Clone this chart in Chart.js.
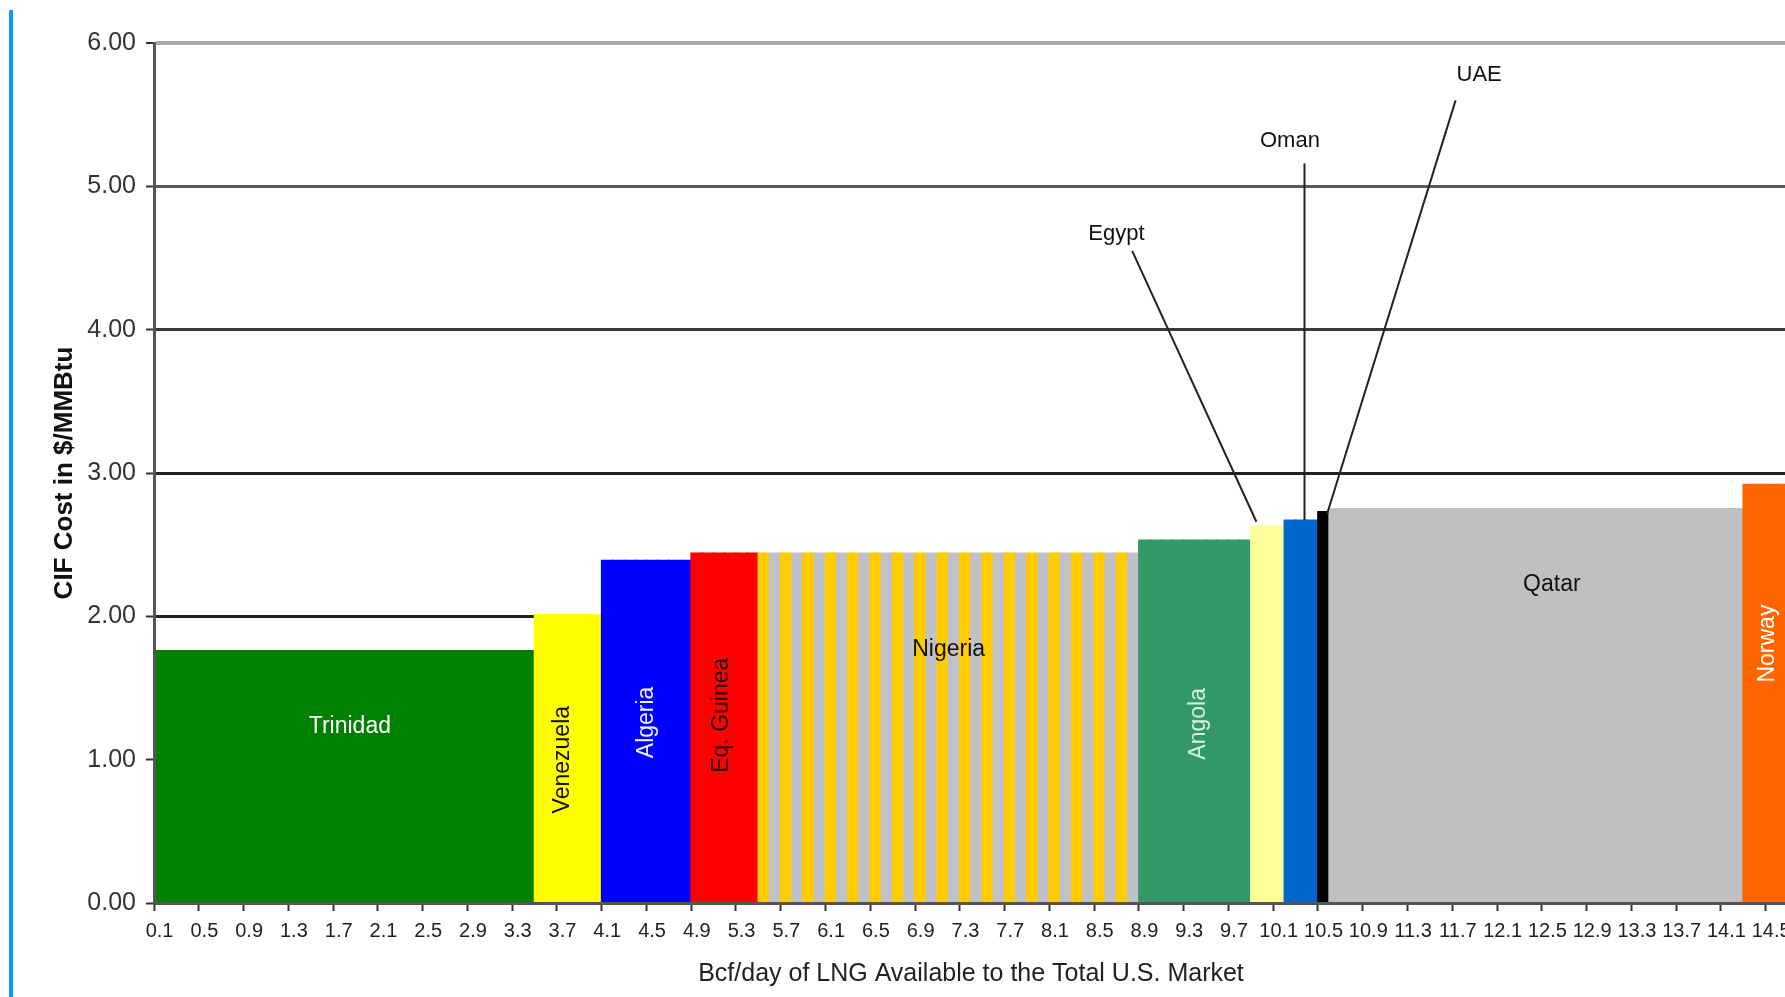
<!DOCTYPE html>
<html><head><meta charset="utf-8">
<script src="https://cdn.jsdelivr.net/npm/chart.js@4.4.1/dist/chart.umd.min.js"></script>
<style>
html,body{margin:0;padding:0;background:#fff;overflow:hidden;width:1785px;height:997px;}
#wrap{position:absolute;left:0;top:0;width:1788px;height:997px;}
#edge{position:absolute;left:9px;top:10px;width:4px;height:987px;background:#0b9bff;}
</style></head><body>
<div id="wrap"><canvas id="c" width="1788" height="997"></canvas></div>
<div id="edge"></div>
<script>
// ---- data ----
const countries = ['Trinidad','Venezuela','Algeria','Eq. Guinea','Nigeria','Angola','Egypt','Oman','UAE','Qatar','Norway'];
const volumes   = [3.4, 0.6, 0.8, 0.6, 3.4, 1.0, 0.3, 0.3, 0.1, 3.7, 0.4];           // Bcf/day per supplier
const costs     = [1.76, 2.01, 2.39, 2.44, 2.44, 2.53, 2.63, 2.67, 2.73, 2.75, 2.92]; // CIF $/MMBtu
const xTickLabels = ['0.1','0.5','0.9','1.3','1.7','2.1','2.5','2.9','3.3','3.7','4.1','4.5','4.9','5.3','5.7','6.1','6.5','6.9','7.3','7.7','8.1','8.5','8.9','9.3','9.7','10.1','10.5','10.9','11.3','11.7','12.1','12.5','12.9','13.3','13.7','14.1','14.5'];
const yTickValues = [0, 1, 2, 3, 4, 5, 6];
const step = 0.1;

// ---- styles (kept apart from the data) ----
const barColors = ['#008000','#FFFF00','#0000FF','#FF0000',['#FFCC00','#C0C0C8'],'#339966','#FFFF99','#0066CC','#000000','#C0C0C0','#FF6600'];
// in-bar label placement: [x offset in Bcf/day from group centre, y in $/MMBtu, rotation, colour]
const inLabels = {
  'Trinidad':   [0.05, 1.23, 0,   '#ffffff'],
  'Venezuela':  [-0.05, 1.00, -90, '#111111'],
  'Algeria':    [0,    1.26, -90, '#f0f0ff'],
  'Eq. Guinea': [-0.03, 1.31, -90, '#220000'],
  'Nigeria':    [0,    1.77, 0,   '#111111'],
  'Angola':     [0.03, 1.25, -90, '#d8f0e0'],
  'Qatar':      [0.14, 2.22, 0,   '#111111'],
  'Norway':     [0.02, 1.81, -90, '#ffffff']
};
// call-outs: [text x, text y, line x1, y1, x2, y2] in Bcf/day and $/MMBtu
const callouts = {
  'Egypt': [8.60, 4.67, 8.74, 4.55, 9.85, 2.66],
  'Oman':  [10.15, 5.32, 10.28, 5.16, 10.28, 2.67],
  'UAE':   [11.84, 5.78, 11.63, 5.60, 10.48, 2.71]
};

// ---- build the 0.1 Bcf/day category table from the supplier lists ----
const categories = [], values = [], fills = [], groupStart = [];
let n = 0;
countries.forEach((c, gi) => {
  groupStart.push(n * step);
  const count = Math.round(volumes[gi] / step);
  for (let j = 0; j < count; j++) {
    n++;
    categories.push((n * step).toFixed(1));
    values.push(costs[gi]);
    const col = barColors[gi];
    fills.push(Array.isArray(col) ? col[j % 2] : col);
  }
});

const FONT = "'Liberation Sans', Arial, sans-serif";
Chart.defaults.font.family = FONT;

const gridColors = {6:'#a8a8a8', 5:'#5a5a5a', 4:'#3a3a3a', 3:'#222222', 2:'#222222', 1:'#222222', 0:'#222222'};

const labelPlugin = {
  id: 'supplierLabels',
  afterDatasetsDraw(chart) {
    const {ctx, scales: {x, y}} = chart;
    const px = b => x.getPixelForValue(b / step - 0.5);
    ctx.save();
    ctx.textAlign = 'center';
    ctx.textBaseline = 'middle';
    ctx.font = "23px " + FONT;
    countries.forEach((c, gi) => {
      const L = inLabels[c];
      if (!L) return;
      const cx = groupStart[gi] + volumes[gi] / 2 + L[0];
      ctx.save();
      ctx.translate(px(cx), y.getPixelForValue(L[1]));
      ctx.rotate(L[2] * Math.PI / 180);
      ctx.fillStyle = L[3];
      ctx.fillText(c, 0, 0);
      ctx.restore();
    });
    ctx.font = "22px " + FONT;
    ctx.fillStyle = '#111';
    ctx.strokeStyle = '#222';
    ctx.lineWidth = 2;
    Object.keys(callouts).forEach(k => {
      const a = callouts[k];
      ctx.fillText(k, px(a[0]), y.getPixelForValue(a[1]));
      ctx.beginPath();
      ctx.moveTo(px(a[2]), y.getPixelForValue(a[3]));
      ctx.lineTo(px(a[4]), y.getPixelForValue(a[5]));
      ctx.stroke();
    });
    ctx.restore();
  }
};

new Chart(document.getElementById('c'), {
  type: 'bar',
  data: {
    labels: categories,
    datasets: [{
      data: values,
      backgroundColor: fills,
      borderWidth: 0,
      inflateAmount: 0.8,
      barPercentage: 1,
      categoryPercentage: 1
    }]
  },
  options: {
    responsive: false,
    animation: false,
    devicePixelRatio: 1,
    layout: {padding: {top: 43, right: 0, bottom: 0, left: 0}},
    plugins: {legend: {display: false}, tooltip: {enabled: false}},
    scales: {
      x: {
        type: 'category',
        grid: {
          drawOnChartArea: false, drawTicks: true, tickLength: 8, tickWidth: 2,
          tickColor: c => (c.index % 4 === 0 ? '#333' : 'rgba(0,0,0,0)')
        },
        border: {display: true, color: '#555', width: 3, z: 1},
        ticks: {
          autoSkip: false, maxRotation: 0, minRotation: 0, padding: 8,
          color: '#222', font: {size: 20, family: FONT},
          callback: (v, i) => (i % 4 === 0 ? xTickLabels[i / 4] : '')
        },
        title: {
          display: true, text: 'Bcf/day of LNG Available to the Total U.S. Market',
          color: '#222', font: {size: 25, family: FONT}, padding: {top: 0, bottom: 8}
        },
        afterFit: s => { s.height = 94; s.paddingLeft = 0; s.paddingRight = 0; }
      },
      y: {
        min: 0, max: 6,
        afterBuildTicks: s => { s.ticks = yTickValues.map(v => ({value: v})); },
        grid: {
          color: c => gridColors[c.tick.value] || '#222',
          lineWidth: c => (c.tick.value === 6 ? 4 : 3),
          tickColor: '#333', tickWidth: 2, tickLength: 8
        },
        border: {display: true, color: '#555', width: 3, z: 1},
        ticks: {
          color: '#333', padding: 10, font: {size: 25, family: FONT},
          callback: v => Number(v).toFixed(2)
        },
        title: {
          display: true, text: 'CIF Cost in $/MMBtu',
          color: '#111', font: {size: 26, weight: 'bold', family: FONT}, padding: {top: 49, bottom: 0}
        },
        afterFit: s => { s.width = 154; s.paddingTop = 0; s.paddingBottom = 0; }
      }
    }
  },
  plugins: [labelPlugin]
});
</script>
</body></html>
